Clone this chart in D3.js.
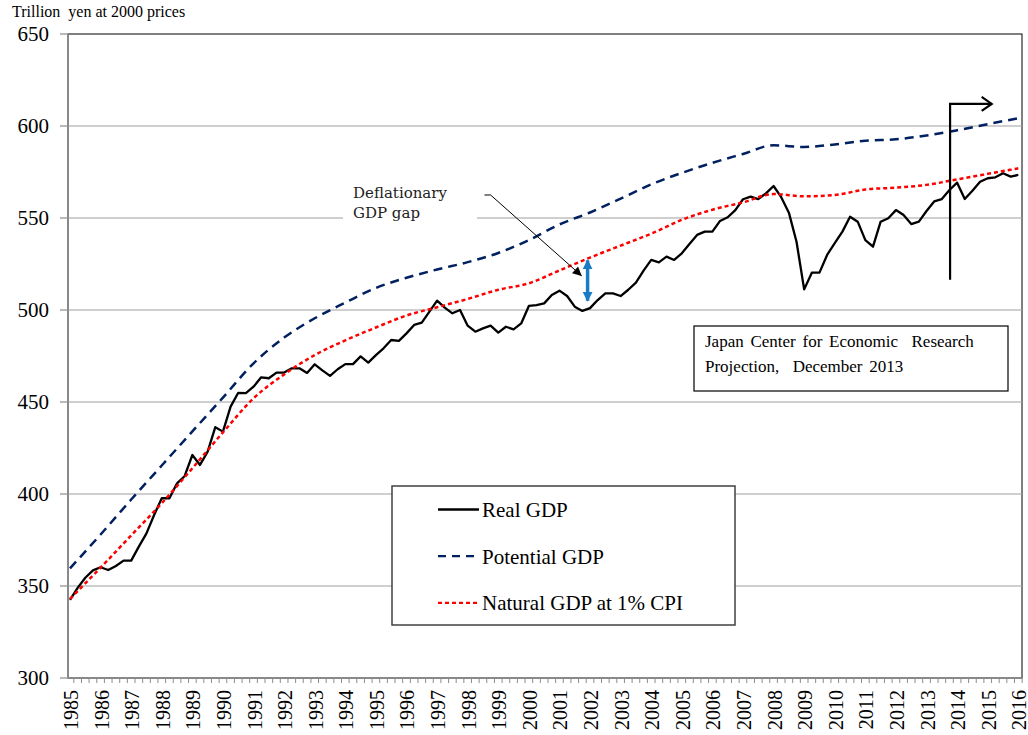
<!DOCTYPE html>
<html>
<head>
<meta charset="utf-8">
<script src="https://cdn.jsdelivr.net/npm/d3@7"></script>
<style>
    body { margin: 0; background: #fff; }
    svg text { font-family: "Liberation Serif", "Times New Roman", serif; fill: #000; }
</style>
</head>
<body>
<div id="chart"></div>
<script>
// data, trillion yen at 2000 prices
const startYear = 1985;
const yearLabels = [1985, 1986, 1987, 1988, 1989, 1990, 1991, 1992, 1993, 1994, 1995, 1996, 1997, 1998, 1999, 2000,
    2001, 2002, 2003, 2004, 2005, 2006, 2007, 2008, 2009, 2010, 2011, 2012, 2013, 2014, 2015, 2016];
const yTicks = [300, 350, 400, 450, 500, 550, 600, 650];

// quarterly, 1985Q1 .. 2016Q1
const realGDP = [
    342.4, 349.0, 354.5, 358.5, 360.2, 358.7, 360.9, 363.8, 363.8, 371.4, 378.6, 388.6,
    397.7, 397.7, 405.8, 409.8, 421.2, 415.8, 423.0, 436.3, 433.9, 447.5, 455.0, 454.8,
    458.3, 463.4, 462.9, 466.0, 466.0, 468.3, 468.3, 465.8, 470.5, 467.2, 464.2, 467.8,
    470.6, 470.6, 474.8, 471.4, 475.5, 479.2, 483.7, 483.2, 487.3, 491.9, 493.1, 499.1,
    505.1, 501.3, 498.2, 500.0, 491.5, 488.2, 490.0, 491.5, 487.7, 490.9, 489.5, 492.7,
    502.2, 502.7, 503.6, 508.2, 510.5, 507.6, 501.8, 499.5, 501.0, 505.4, 509.0, 509.0,
    507.6, 511.0, 514.9, 521.4, 527.2, 525.9, 529.0, 527.2, 530.8, 535.9, 540.8, 542.6,
    542.6, 548.4, 550.4, 554.3, 560.2, 561.6, 560.3, 563.4, 567.4, 561.3, 552.9, 537.1,
    511.2, 520.3, 520.3, 529.9, 536.3, 542.6, 550.7, 548.0, 538.0, 534.4, 548.0, 549.9,
    554.3, 551.6, 546.7, 548.0, 553.8, 559.0, 560.3, 565.2, 569.2, 560.3, 564.8, 569.7,
    571.6, 572.1, 574.3, 572.5, 573.4
];

// yearly, 1985 .. 2016
const potentialGDP = [
    359.6, 378.0, 397.0, 415.5, 434.0, 452.4, 471.0, 485.0, 495.5, 504.0, 512.0, 517.5,
    522.0, 526.0, 531.0, 538.0, 546.5, 553.0, 560.5, 568.3, 574.5, 580.0, 584.8, 589.5,
    588.6, 590.0, 592.0, 592.8, 594.8, 597.7, 601.0, 604.2
];
const naturalGDP = [
    343.0, 360.0, 377.5, 395.0, 414.0, 433.5, 452.0, 465.0, 475.5, 483.5, 490.5, 497.0,
    501.5, 506.0, 511.0, 514.5, 521.5, 528.5, 535.0, 541.5, 549.0, 554.5, 558.5, 563.0,
    561.8, 562.5, 565.5, 566.5, 568.0, 571.0, 574.0, 577.0
];

const seriesNames = ["Real GDP", "Potential GDP", "Natural GDP at 1% CPI"];

const width = 1028;
const height = 735;
const frame = {left: 68, right: 1022, top: 34, bottom: 678};

var svg = d3.select("#chart").append("svg")
    .attr("width", width).attr("height", height);

var x = d3.scaleLinear().domain([1985, 2016]).range([70, 1018.3]);
var y = d3.scaleLinear().domain([300, 650]).range([frame.bottom, frame.top]);

var realData = realGDP.map(function (v, i) { return {t: startYear + i / 4, v: v}; });
var potData = potentialGDP.map(function (v, i) { return {t: startYear + i, v: v}; });
var natData = naturalGDP.map(function (v, i) { return {t: startYear + i, v: v}; });

// plot frame
svg.append("rect")
    .attr("x", frame.left).attr("y", frame.top)
    .attr("width", frame.right - frame.left).attr("height", frame.bottom - frame.top)
    .attr("fill", "#fff").attr("stroke", "#000").attr("stroke-width", 1);

// gridlines
svg.append("g").selectAll("line")
    .data(yTicks.filter(function (d) { return d > 300 && d < 650; }))
    .enter().append("line")
    .attr("x1", frame.left).attr("x2", frame.right)
    .attr("y1", function (d) { return y(d); }).attr("y2", function (d) { return y(d); })
    .attr("stroke", "#a0a0a0").attr("stroke-width", 1.2);

// y axis
var yAxis = svg.append("g");
yAxis.append("line")
    .attr("x1", frame.left).attr("x2", frame.left)
    .attr("y1", frame.top).attr("y2", frame.bottom)
    .attr("stroke", "#8c8c8c").attr("stroke-width", 1.5);
yAxis.selectAll(".ytick").data(yTicks).enter().append("line")
    .attr("x1", 60).attr("x2", frame.left)
    .attr("y1", function (d) { return y(d); }).attr("y2", function (d) { return y(d); })
    .attr("stroke", "#8c8c8c").attr("stroke-width", 1.2);
yAxis.selectAll(".ylab").data(yTicks).enter().append("text")
    .attr("x", 49).attr("y", function (d) { return y(d); })
    .attr("dy", "0.35em")
    .attr("text-anchor", "end")
    .style("font-size", "21px")
    .text(function (d) { return d; });

// x axis
var xAxis = svg.append("g");
xAxis.append("line")
    .attr("x1", frame.left).attr("x2", frame.right)
    .attr("y1", frame.bottom).attr("y2", frame.bottom)
    .attr("stroke", "#8c8c8c").attr("stroke-width", 1.5);
xAxis.selectAll(".xtick").data(d3.range(0, 125)).enter().append("line")
    .attr("x1", function (k) { return x(startYear + (k + 0.5) / 4); })
    .attr("x2", function (k) { return x(startYear + (k + 0.5) / 4); })
    .attr("y1", frame.bottom).attr("y2", frame.bottom + 5)
    .attr("stroke", "#8c8c8c").attr("stroke-width", 1);
xAxis.selectAll(".xlab").data(yearLabels).enter().append("text")
    .attr("transform", function (d) { return "translate(" + (x(d) + 1) + ",690) rotate(-90)"; })
    .attr("dy", "0.35em")
    .attr("text-anchor", "end")
    .style("font-size", "20px")
    .text(function (d) { return d; });

// axis unit
svg.append("text")
    .attr("x", 12).attr("y", 17)
    .style("font-size", "16px")
    .attr("xml:space", "preserve")
    .text("Trillion  yen at 2000 prices");

// series
var lineQ = d3.line()
    .x(function (d) { return x(d.t); })
    .y(function (d) { return y(d.v); });
var lineY = d3.line()
    .curve(d3.curveMonotoneX)
    .x(function (d) { return x(d.t); })
    .y(function (d) { return y(d.v); });

svg.append("path").datum(realData)
    .attr("d", lineQ)
    .attr("fill", "none").attr("stroke", "#000").attr("stroke-width", 2.3)
    .attr("stroke-linejoin", "round");
svg.append("path").datum(potData)
    .attr("d", lineY)
    .attr("fill", "none").attr("stroke", "#002060").attr("stroke-width", 2.5)
    .attr("stroke-dasharray", "9,6");
svg.append("path").datum(natData)
    .attr("d", lineY)
    .attr("fill", "none").attr("stroke", "#ff0000").attr("stroke-width", 2.5)
    .attr("stroke-dasharray", "4,3");

// markers
var defs = svg.append("defs");
defs.append("marker")
    .attr("id", "thinArrow")
    .attr("viewBox", "0 -5 10 10")
    .attr("refX", 10).attr("refY", 0)
    .attr("markerWidth", 10).attr("markerHeight", 9)
    .attr("markerUnits", "userSpaceOnUse")
    .attr("orient", "auto")
    .append("path").attr("d", "M0,-5L10,0L0,5Z").attr("fill", "#000");
defs.append("marker")
    .attr("id", "blueArrow")
    .attr("viewBox", "0 -5 10 10")
    .attr("refX", 9).attr("refY", 0)
    .attr("markerWidth", 10).attr("markerHeight", 11)
    .attr("markerUnits", "userSpaceOnUse")
    .attr("orient", "auto-start-reverse")
    .append("path").attr("d", "M0,-5L10,0L0,5Z").attr("fill", "#1a7cc6");

// deflationary gap annotation
var gapT = 2001.92;
svg.append("rect")
    .attr("x", 343).attr("y", 182).attr("width", 134).attr("height", 44)
    .attr("fill", "#fff");
svg.append("text")
    .attr("x", 353).attr("y", 198)
    .style("font-family", "'DejaVu Serif', serif").style("font-size", "15px").style("fill", "#222")
    .text("Deflationary");
svg.append("text")
    .attr("x", 353).attr("y", 218)
    .style("font-family", "'DejaVu Serif', serif").style("font-size", "15px").style("fill", "#222")
    .text("GDP gap");
svg.append("polyline")
    .attr("points", [[x(1998.55), y(562.5)], [x(1998.75), y(562.5)], [x(2001.73), y(518.5)]]
        .map(function (p) { return p.join(","); }).join(" "))
    .attr("fill", "none").attr("stroke", "#000").attr("stroke-width", 1)
    .attr("marker-end", "url(#thinArrow)");
svg.append("line")
    .attr("x1", x(gapT)).attr("x2", x(gapT))
    .attr("y1", y(527)).attr("y2", y(505))
    .attr("stroke", "#1a7cc6").attr("stroke-width", 3.5)
    .attr("marker-start", "url(#blueArrow)")
    .attr("marker-end", "url(#blueArrow)");

// projection arrow
var projT = 2013.77;
svg.append("polyline")
    .attr("points", [[x(projT), y(516.5)], [x(projT), y(612)], [x(2015.13), y(612)]]
        .map(function (p) { return p.join(","); }).join(" "))
    .attr("fill", "none").attr("stroke", "#000").attr("stroke-width", 2.2);
svg.append("polyline")
    .attr("points", [[x(2015.13) - 10, y(612) - 7], [x(2015.13), y(612)], [x(2015.13) - 10, y(612) + 7]]
        .map(function (p) { return p.join(","); }).join(" "))
    .attr("fill", "none").attr("stroke", "#000").attr("stroke-width", 2.2);

// JCER box
svg.append("rect")
    .attr("x", 694).attr("y", 326).attr("width", 314).attr("height", 65)
    .attr("fill", "#fff").attr("stroke", "#000").attr("stroke-width", 1.2);
svg.append("text")
    .attr("x", 705).attr("y", 347)
    .attr("xml:space", "preserve")
    .style("font-size", "17px").style("word-spacing", "2.5px")
    .text("Japan Center for Economic  Research");
svg.append("text")
    .attr("x", 705).attr("y", 371.5)
    .attr("xml:space", "preserve")
    .style("font-size", "17px").style("word-spacing", "2.5px")
    .text("Projection,  December 2013");

// legend
var legend = svg.append("g");
legend.append("rect")
    .attr("x", 392).attr("y", 486).attr("width", 343).attr("height", 139)
    .attr("fill", "#fff").attr("stroke", "#404040").attr("stroke-width", 1.5);
var legendStyles = [
    {color: "#000", dash: null},
    {color: "#002060", dash: "8,6"},
    {color: "#ff0000", dash: "4,3"}
];
var items = legend.selectAll(".item").data(seriesNames).enter().append("g")
    .attr("transform", function (d, i) { return "translate(0," + (509.5 + i * 46.7) + ")"; });
items.append("line")
    .attr("x1", 438).attr("x2", 479)
    .attr("stroke", function (d, i) { return legendStyles[i].color; })
    .attr("stroke-width", 2.3)
    .attr("stroke-dasharray", function (d, i) { return legendStyles[i].dash; });
items.append("text")
    .attr("x", 482).attr("dy", "0.35em")
    .style("font-size", "21px")
    .text(function (d) { return d; });
</script>
</body>
</html>
